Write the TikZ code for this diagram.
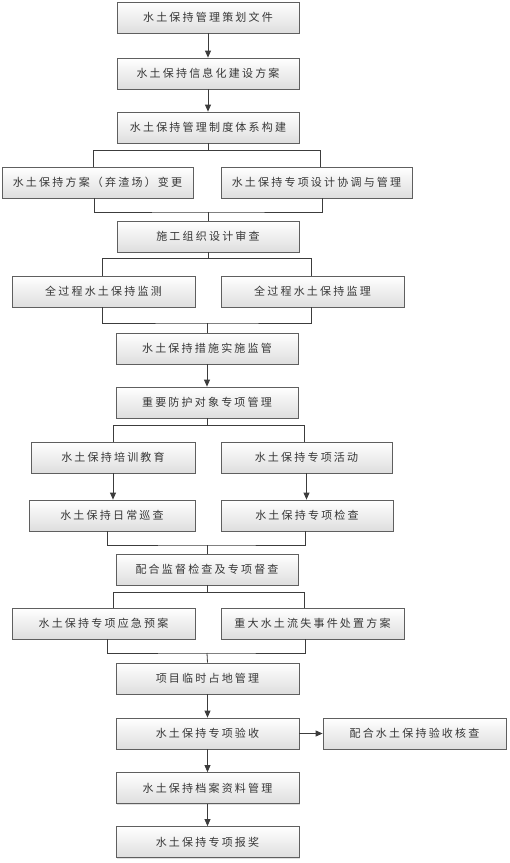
\documentclass[tikz,border=0pt]{standalone}
\usepackage{fontspec}
\usepackage{xcolor}
\usepackage{tikz}
\usetikzlibrary{arrows.meta, positioning, calc, shadows}
\newfontfamily\cjk[LetterSpace=20]{Noto Sans CJK SC}
\definecolor{boxline}{RGB}{95,95,95}
\definecolor{linkgray}{RGB}{60,60,60}
\definecolor{textgray}{RGB}{55,55,55}
\definecolor{shadegray}{RGB}{222,222,222}

\begin{document}
\begin{tikzpicture}[
    x=1pt, y=-1pt,
    stepbox/.style={draw=boxline, line width=0.8pt, top color=white, bottom color=shadegray, minimum width=182pt, minimum height=31pt, inner sep=0pt, text=textgray, font=\cjk\fontsize{11}{13}\selectfont, drop shadow={shadow xshift=1.2pt, shadow yshift=-1.2pt, fill=black!25}},
    link/.style={draw=linkgray, line width=0.8pt},
    flow/.style={link, -{Triangle[length=7pt, width=6pt]}}
]
    \useasboundingbox (0,0) rectangle (510,863);

    % Main line
    \node[stepbox] (plan) at (208,17.5) {水土保持管理策划文件};
    \node[stepbox] (info) at (208,73.5) {水土保持信息化建设方案};
    \node[stepbox] (rules) at (208,127.5) {水土保持管理制度体系构建};

    \node[stepbox, minimum width=191pt] (change) at (97.5,182.5) {水土保持方案（弃渣场）变更};
    \node[stepbox, minimum width=191pt] (design) at (316.5,182.5) {水土保持专项设计协调与管理};

    \node[stepbox] (review) at (208,236.5) {施工组织设计审查};

    \node[stepbox, minimum width=183pt] (monitor) at (103.5,291.5) {全过程水土保持监测};
    \node[stepbox, minimum width=183pt] (supervise) at (312.5,291.5) {全过程水土保持监理};

    \node[stepbox] (measure) at (207,348.5) {水土保持措施实施监管};
    \node[stepbox] (protect) at (207,402.5) {重要防护对象专项管理};

    \node[stepbox, minimum width=164pt] (train) at (113,457.5) {水土保持培训教育};
    \node[stepbox, minimum width=171pt] (activity) at (306.5,457.5) {水土保持专项活动};
    \node[stepbox, minimum width=166pt] (patrol) at (112,515.5) {水土保持日常巡查};
    \node[stepbox, minimum width=172pt] (inspect) at (307,515.5) {水土保持专项检查};

    \node[stepbox] (audit) at (207,569.5) {配合监督检查及专项督查};

    \node[stepbox, minimum width=183pt] (emerg) at (103.5,623.5) {水土保持专项应急预案};
    \node[stepbox, minimum width=183pt] (loss) at (312.5,623.5) {重大水土流失事件处置方案};

    \node[stepbox, minimum width=183pt] (land) at (207.5,678.5) {项目临时占地管理};
    \node[stepbox, minimum width=183pt] (accept) at (207.5,733.5) {水土保持专项验收};
    \node[stepbox, minimum width=183pt] (check) at (414.5,733.5) {配合水土保持验收核查};
    \node[stepbox, minimum width=183pt] (archive) at (207.5,788) {水土保持档案资料管理};
    \node[stepbox, minimum width=183pt] (award) at (207.5,842) {水土保持专项报奖};

    % Split and merge points
    \coordinate (s1) at (208,150);
    \coordinate (m1) at (208,212);
    \coordinate (s2) at (208,258);
    \coordinate (m2) at (207,323);
    \coordinate (s3) at (207,425);
    \coordinate (m3) at (207,545);
    \coordinate (s4) at (207,592);
    \coordinate (m4) at (207,653);

    % Connectors
    \draw[flow] (plan) -- (info);
    \draw[flow] (info) -- (rules);

    \draw[link] (rules.south) -- (s1);
    \draw[link] (s1) -| ([xshift=-4.5pt]change.north);
    \draw[link] (s1) -| ([xshift=3.5pt]design.north);
    \draw[link] ([xshift=-3.5pt]change.south) |- (m1) -| ([xshift=5.5pt]design.south);
    \draw[link] (m1) -- (review.north);

    \draw[link] (review.south) -- (s2);
    \draw[link] (s2) -| ([xshift=-1.5pt]monitor.north);
    \draw[link] (s2) -| ([xshift=-1.5pt]supervise.north);
    \draw[link] ([xshift=-1.5pt]monitor.south) |- (m2) -| ([xshift=-1.5pt]supervise.south);
    \draw[link] (m2) -- (measure.north);

    \draw[flow] (measure) -- (protect);

    \draw[link] (protect.south) -- (s3);
    \draw[link] (s3) -| (train.north);
    \draw[link] (s3) -| ([xshift=-2.5pt]activity.north);
    \draw[flow] (train.south) -- (train.south |- patrol.north);
    \draw[flow] (activity.south) -- (activity.south |- inspect.north);
    \draw[link] ([xshift=-5pt]patrol.south) |- (m3) -| ([xshift=-2pt]inspect.south);
    \draw[link] (m3) -- (audit.north);

    \draw[link] (audit.south) -- (s4);
    \draw[link] (s4) -| ([xshift=9.5pt]emerg.north);
    \draw[link] (s4) -| ([xshift=-8.5pt]loss.north);
    \draw[link] ([xshift=3.5pt]emerg.south) |- (m4) -| ([xshift=-7.5pt]loss.south);
    \draw[link] (m4) -- (land.north);

    \draw[flow] (land) -- (accept);
    \draw[flow] (accept) -- (check);
    \draw[flow] (accept) -- (archive);
    \draw[flow] (archive) -- (award);
\end{tikzpicture}
\end{document}
